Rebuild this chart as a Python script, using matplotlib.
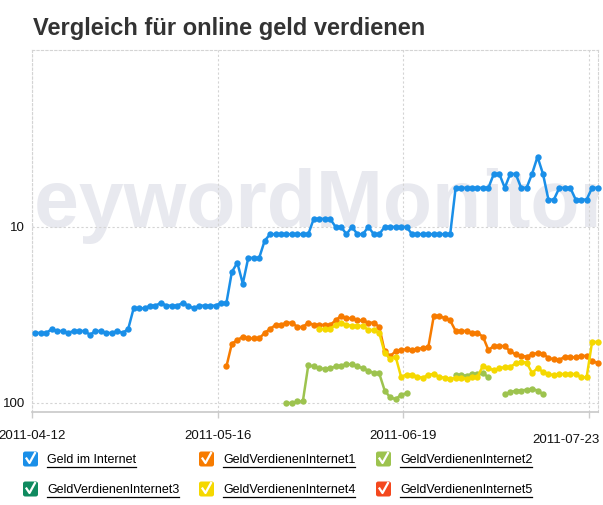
import matplotlib
matplotlib.use('Agg')
import matplotlib.pyplot as plt
import matplotlib.dates as mdates
import matplotlib.transforms as mtransforms
from matplotlib.patches import FancyBboxPatch
from matplotlib.lines import Line2D
import numpy as np
import pandas as pd

nan = np.nan

title = 'Vergleich für online geld verdienen'
series_names = ['Geld im Internet', 'GeldVerdienenInternet1', 'GeldVerdienenInternet2',
                'GeldVerdienenInternet3', 'GeldVerdienenInternet4', 'GeldVerdienenInternet5']
colors = ['#1a8fe8', '#f77b00', '#9dc34f', '#0f8a5f', '#f5d800', '#f4481e']

# one value per day, timestamps as delivered by the tool
dates = pd.date_range('2011-04-12 15:00', periods=104, freq='D')
tick_dates = pd.to_datetime(['2011-04-12', '2011-05-16', '2011-06-19', '2011-07-23'])

geld_im_internet = [
    40, 40, 40, 38, 39, 39, 40, 39, 39, 39,
    41, 39, 39, 40, 40, 39, 40, 38, 29, 29,
    29, 28, 28, 27, 28, 28, 28, 27, 28, 29,
    28, 28, 28, 28, 27, 27, 18, 16, 21, 15,
    15, 15, 12, 11, 11, 11, 11, 11, 11, 11,
    11, 9, 9, 9, 9, 10, 10, 11, 10, 11,
    11, 10, 11, 11, 10, 10, 10, 10, 10, 11,
    11, 11, 11, 11, 11, 11, 11, 6, 6, 6,
    6, 6, 6, 6, 5, 5, 6, 5, 5, 6,
    6, 5, 4, 5, 7, 7, 6, 6, 6, 7,
    7, 7, 6, 6]

verdienen1 = [nan] * 30 + [
    nan, nan, nan, nan, nan, 62, 46, 44, 42, 43,
    43, 43, 40, 38, 36, 36, 35, 35, 37, 37,
    35, 36, 36, 36, 36, 34, 32, 33, 33, 34,
    34, 35, 35, 37, 51, 54, 51, 50, 49.5, 50,
    49.5, 48.6, 48, 32, 32, 33, 34, 39, 39, 39,
    40, 40, 42, 50, 47.5, 47.5, 47.5, 51, 53, 54,
    54.5, 53, 52, 52.5, 55.5, 56.5, 57, 54.5, 55, 55,
    54, 54, 58, 59]

verdienen2 = [nan] * 40 + [
    nan, nan, nan, nan, nan, nan, 100, 100, 98, 98,
    61, 62, 63.5, 64, 63.5, 62, 61.3, 60.3, 60.3, 62,
    63.5, 65.5, 67.5, 68, 85, 93, 95, 90, 88, nan,
    nan, nan, nan, nan, nan, nan, nan, 69.3, 69.3, 70,
    68.4, 68.4, 67.6, 71.5, nan, nan, 89, 87, 85, 85,
    84, 83, 85, 89, nan, nan, nan, nan, nan, nan,
    nan, nan, nan, nan]

verdienen3 = [nan] * 104

verdienen4 = [nan] * 50 + [
    nan, nan, 38, 38, 38, 36, 35, 36, 36.5, 36.5,
    36.5, 38.5, 38.5, 40, 52, 56, 54.5, 71, 69, 69,
    71, 72, 69, 68.5, 71, 72, 73, 72, 72, 73,
    71, 71, 61.5, 63.5, 65, 63.5, 62.5, 62.5, 59.5, 58.5,
    59, 67.5, 63.5, 66.5, 68.5, 69.5, 68.5, 68.5, 68.5, 68.5,
    71.5, 71.5, 45, 45]

verdienen5 = [nan] * 104

all_series = [geld_im_internet, verdienen1, verdienen2, verdienen3, verdienen4, verdienen5]

W, H = 603, 505
fig = plt.figure(figsize=(W / 100, H / 100), dpi=100)
ax = fig.add_axes([32 / W, 1 - 412 / H, 566 / W, 362 / H])

# watermark
ax.text(-0.097, 0.512, 'KeywordMonitor', transform=ax.transAxes, fontsize=58,
        fontweight='bold', color='#e8e9ef', va='baseline', ha='left', zorder=0,
        family='Liberation Sans', clip_on=True)

for name, vals, col in zip(series_names, all_series, colors):
    ax.plot(dates, vals, color=col, linewidth=1.8, marker='o', markersize=4.6,
            markeredgewidth=0, zorder=3, clip_on=False)

ax.set_yscale('log')
ax.set_ylim(112.5, 0.99)
ax.set_yticks([10, 100])
ax.set_yticklabels(['10', '100'])
ax.yaxis.set_minor_locator(matplotlib.ticker.NullLocator())
ax.set_xlim(pd.Timestamp('2011-04-12'), pd.Timestamp('2011-07-24 17:00'))
ax.set_xticks(tick_dates)
ax.xaxis.set_major_formatter(mdates.DateFormatter('%Y-%m-%d'))

ax.tick_params(axis='y', length=0, pad=5, labelsize=9.5, labelcolor='#111111')
ax.tick_params(axis='x', length=4, width=1, color='#cccccc', pad=9, labelsize=9.5,
               labelcolor='#111111')
for lab in ax.get_xticklabels() + ax.get_yticklabels():
    lab.set_family('Liberation Sans')
last = ax.get_xticklabels()[-1]
last.set_transform(last.get_transform() + mtransforms.ScaledTranslation(-0.23, -0.04, fig.dpi_scale_trans))

ax.grid(True, color='#d4d4d4', linestyle=(0, (2, 2)), linewidth=0.8)
for side in ['left', 'top', 'right']:
    ax.spines[side].set_color('#d4d4d4')
    ax.spines[side].set_linestyle((0, (2, 2)))
    ax.spines[side].set_linewidth(0.8)
ax.spines['bottom'].set_color('#c8c8c8')
ax.spines['bottom'].set_linewidth(1.2)

fig.text(33 / W, 1 - 28 / H, title, fontsize=17, fontweight='bold', color='#333333',
         va='center', ha='left', family='Liberation Sans')

# legend with check boxes
box_x = [23, 199, 376]
text_x = [47, 223, 400]
row_y = [459, 489]
renderer = fig.canvas.get_renderer()
for k, (name, col) in enumerate(zip(series_names, colors)):
    r, c = divmod(k, 3)
    cx, cy = box_x[c], row_y[r]
    size = 15
    fig.patches.append(FancyBboxPatch(((cx) / W, 1 - (cy + size / 2) / H), size / W, size / H,
                                      boxstyle='round,pad=0,rounding_size=0.004',
                                      transform=fig.transFigure, facecolor=col,
                                      edgecolor='none', figure=fig))
    px = [cx + 3.5, cx + 6.5, cx + 12]
    py = [cy - 0.5, cy + 4, cy - 6]
    fig.lines.append(Line2D([p / W for p in px], [1 - p / H for p in py],
                            transform=fig.transFigure, color='white', linewidth=1.6,
                            figure=fig))
    t = fig.text(text_x[c] / W, 1 - (cy + 1) / H, name, fontsize=9, color='#000000',
                 va='center', ha='left', family='Liberation Sans')
    bb = t.get_window_extent(renderer)
    fig.lines.append(Line2D([bb.x0 / W, bb.x1 / W], [(bb.y0 - 0.5) / H, (bb.y0 - 0.5) / H],
                            transform=fig.transFigure, color='#000000', linewidth=0.9,
                            figure=fig))

fig.savefig('out.png', dpi=100)
